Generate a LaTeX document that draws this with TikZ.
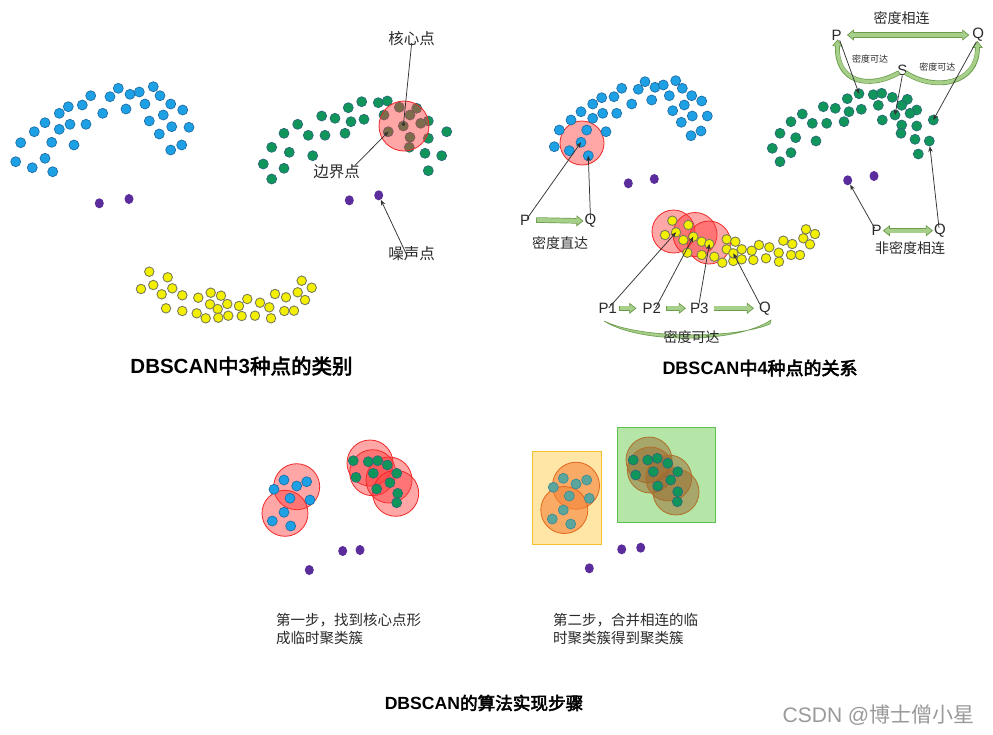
\documentclass[tikz,border=0pt]{standalone}
\usepackage{fontspec}
\setmainfont{Liberation Sans}
\newfontfamily\cjk{Noto Sans CJK SC}
\newfontfamily\cjkb[FakeBold=3]{Noto Sans CJK SC}
\usetikzlibrary{arrows.meta,shapes.geometric}
\definecolor{cblue}{HTML}{1EA0E4}
\definecolor{cblueD}{HTML}{1F6FA8}
\definecolor{cgreen}{HTML}{10955A}
\definecolor{cgreenD}{HTML}{2A6A78}
\definecolor{cyel}{HTML}{F2F000}
\definecolor{cyelD}{HTML}{7C7C58}
\definecolor{cpur}{HTML}{5A2C9C}
\definecolor{cteal}{HTML}{5BA69C}
\definecolor{ctealD}{HTML}{3E8A95}
\definecolor{cred}{HTML}{FF3B3B}
\definecolor{credD}{HTML}{F02828}
\definecolor{corg}{HTML}{F5843A}
\definecolor{corgD}{HTML}{E0661A}
\definecolor{cbrn}{HTML}{9A6A30}
\definecolor{cbrnD}{HTML}{B0702A}
\definecolor{cyrect}{HTML}{FFE6A6}
\definecolor{cyrectD}{HTML}{F5C030}
\definecolor{cgrect}{HTML}{B5E6A8}
\definecolor{cgrectD}{HTML}{5EC050}
\definecolor{gfill}{HTML}{A6CF8A}
\definecolor{gline}{HTML}{6B9B4B}
\definecolor{ctext}{HTML}{2A2A2A}
\definecolor{cptr}{HTML}{333333}
\definecolor{cwm}{HTML}{9A9A9A}
\newcommand\grnarrow[1]{\draw[gout] #1; \draw[gin] #1;}
\newcommand\grndarrow[1]{\draw[goutd] #1; \draw[gind] #1;}
\newcommand\grncurve[1]{\draw[gcout] #1; \draw[gcin] #1;}
\tikzset{
  dotb/.style={circle,inner sep=0pt,minimum size=10pt,fill=cblue,draw=cblueD,line width=0.7pt},
  dotg/.style={circle,inner sep=0pt,minimum size=10pt,fill=cgreen,draw=cgreenD,line width=0.7pt},
  doty/.style={circle,inner sep=0pt,minimum size=9.5pt,fill=cyel,draw=cyelD,line width=0.9pt},
  dotp/.style={ellipse,inner sep=0pt,minimum width=9pt,minimum height=10pt,fill=cpur},
  dott/.style={circle,inner sep=0pt,minimum size=10pt,fill=cteal,draw=ctealD,line width=0.7pt},
  redc/.style={draw=credD,line width=0.8pt,fill=cred,fill opacity=0.45},
  orgc/.style={draw=corgD,line width=0.8pt,fill=corg,fill opacity=0.6},
  brnc/.style={draw=cbrnD,line width=0.8pt,fill=cbrn,fill opacity=0.5},
  lbl/.style={inner sep=0pt,text=ctext,font=\cjk\fontsize{15.5}{18}\selectfont},
  lbls/.style={inner sep=0pt,text=ctext,font=\cjk\fontsize{14}{16}\selectfont},
  lblt/.style={inner sep=0pt,text=ctext,font=\cjk\fontsize{9}{10}\selectfont},
  latl/.style={inner sep=0pt,text=ctext,font=\fontsize{15}{18}\selectfont},
  captxt/.style={inner sep=0pt,text=ctext,font=\cjk\fontsize{14.5}{18}\selectfont,align=left,anchor=west},
  ttl/.style={inner sep=0pt,text=black},
  ptr/.style={draw=cptr,line width=0.75pt,-{Stealth[length=5.5pt,width=4.5pt]}},
  gout/.style={draw=gline,line width=5.5pt,-{Triangle[length=7pt,width=11pt,line width=0.7pt,fill=gfill]}},
  gin/.style={draw=gfill,line width=4.1pt,shorten >=5.5pt,shorten <=0.7pt},
  goutd/.style={draw=gline,line width=5.5pt,{Triangle[length=7pt,width=11pt,line width=0.7pt,fill=gfill]}-{Triangle[length=7pt,width=11pt,line width=0.7pt,fill=gfill]}},
  gind/.style={draw=gfill,line width=4.1pt,shorten >=5.5pt,shorten <=5.5pt},
  gcout/.style={draw=gline,line width=4.8pt,-{Triangle[length=7pt,width=10.5pt,line width=0.7pt,fill=gfill]}},
  gcin/.style={draw=gfill,line width=3.4pt,shorten >=5.5pt,shorten <=0.7pt},
}
\begin{document}
\begin{tikzpicture}[x=1pt,y=-1pt]
\useasboundingbox (0,0) rectangle (993,734);
\fill[white] (0,0) rectangle (993,734);

%%%%%%%% Panel 1 : blue
\foreach \x/\y in {118.3/88.3,153.3/86.7,90.7/95.7,110/96.7,130/94.3,139.3/92,160/95.7,68.3/106.7,82.3/105,145/104,170.7/104,59.3/113.3,102.7/113.3,126/109,163.3/115,182.7/110,45/122.7,70/124.3,86/124.3,149.3/121,59.3/129.3,34.3/131.7,171.7/126.7,189/127.3,159.3/134,20.7/142.7,51.7/142.3,74/145,181.7/145,170.7/150,45/158.3,15.7/161.7,32.3/167.7,52.7/171.7}
  \node[dotb] at (\x,\y) {};
\node[dotp] (n1a) at (99.3,203.3) {};
\node[dotp] (n1b) at (129,199) {};

%%%%%%%% Panel 1 : green with core point
\foreach \x/\y in {361.7/101.7,378.3/102.7,387.3/101,348.3/107.7,399.3/107.3,416.7/108.3,321.7/116,335/118.3,351/121.7,364/119.3,384/115,410/115,428.3/121,420.7/123.3,297.7/124.3,446.7/131.7,284/133.3,308.3/135.3,325/135.3,345/133.3,410/137.3,428.3/138.3,271.7/147.3,289.3/152.3,312.7/155.7,409.3/147.3,425/153.3,441.7/155.7,263.3/164,284/168.3,428.3/170.7,271.7/179}
  \node[dotg] at (\x,\y) {};
\node[dotg] (core) at (403.3,126) {};
\node[dotg] (bord) at (388.3,131.7) {};
\node[dotp] (n2a) at (349.3,200.3) {};
\node[dotp] (noise) at (378.7,195.3) {};
\draw[redc] (404,126) circle[radius=25];

\node[lbl] (hx) at (411.7,38.5) {核心点};
\node[lbl] (bj) at (336.7,171.7) {边界点};
\node[lbl] (zs) at (411.7,253.3) {噪声点};
\draw[draw=cptr,line width=0.75pt,-{Circle[length=3.5pt]}] ([yshift=3]hx.south) -- (core.center);
\draw[ptr] ([xshift=-5,yshift=-1]bj.north east) -- (bord.center);
\draw[ptr] ([xshift=-5,yshift=-9]zs.north) -- (noise);

%%%%%%%% Panel 1 : yellow
\foreach \x/\y in {149.3/271.7,167.7/277.3,301.7/280.7,141/289,153.3/285,172.3/288.3,311.7/287.7,161.7/294.3,182.3/295.3,198.3/297.7,210.7/292.7,221/295.7,247.3/299,275/294,286/297.3,297.7/292.3,305/300,210/304.3,227.3/304,239/306,260/302.7,269.3/307.3,166/308.3,182.3/311,217.7/309,196.7/313.3,205.7/318.3,218.3/317.7,228.3/315.7,241.7/316,255/315.7,271/318.3,284.3/311,294/310.7}
  \node[doty] at (\x,\y) {};

\node[ttl,font=\fontsize{20.5}{24}\selectfont] (t1) at (241.5,366) {{\bfseries DBSCAN}{\cjkb 中}{\bfseries 3}{\cjkb 种点的类别}};

%%%%%%%% Panel 2 : blue, directly density reachable
\draw[redc] (582,143) circle[radius=22];
\foreach \x/\y in {645/81.7,675.7/80.7,621.7/88.3,638.3/89.3,655/87.3,663.3/85,682.3/88.3,601.7/97.7,614/96.7,669.3/95.7,691.7/95.7,592.7/104,631.7/104,651.7/100,684.3/105,701.7/101,581/111.7,602.7/113.3,616.7/113.3,672.7/110.7,592.7/118.3,571/120,692.3/116,707.3/116,681.3/122.3,559.3/130,586.7/130,606/131.7,701/131,691/135.7,554.3/146.7,569.3/150.7}
  \node[dotb] at (\x,\y) {};
\node[dotb] (pa) at (581,142.3) {};
\node[dotb] (qa) at (588.3,155.7) {};
\node[dotp] (n3a) at (628.3,183.3) {};
\node[dotp] (n3b) at (654.3,179) {};
\node[latl] (pal) at (525,220) {P};
\node[latl] (qal) at (590.5,221) {Q};
\node[lbls] (mdzd) at (560,243.3) {密度直达};
\draw[ptr] ([xshift=2,yshift=-4]pal.north) -- (pa.center);
\draw[ptr] ([yshift=-5]qal.north) -- (qa.center);
\grnarrow{([xshift=6]pal.east) -- ([xshift=-1]qal.west)}

%%%%%%%% Panel 2 : yellow, density reachable
\draw[redc] (673.5,231.5) circle[radius=21.5];
\draw[redc] (695,234.5) circle[radius=22];
\draw[redc] (709,242.5) circle[radius=21.5];
\foreach \x/\y in {672.3/220.7,688.3/225,665/235,683.3/240,701.7/241.7,687.3/252.7,701.7/255,714.3/256.7,726.7/239.3,735.3/241.7,726.7/249.3,722.3/262.7,733.3/261,741.7/249.3,741.7/259.3,751.7/250.7,759/245,753.3/260,766/258.3,769.3/247.3,778.7/252.7,779/261.7,783.3/240.7,792.3/244,791/255,800/255,803.3/238.3,810/244.3,806/229.3,815/234}
  \node[doty] at (\x,\y) {};
\node[doty] (p1d) at (676,232.3) {};
\node[doty] (p2d) at (693.3,236.7) {};
\node[doty] (p3d) at (709.3,244) {};
\node[doty] (qyd) at (733.3,253.3) {};
\node[latl] (p1l) at (607.7,308.3) {P1};
\node[latl] (p2l) at (651.7,308.3) {P2};
\node[latl] (p3l) at (699.3,308.3) {P3};
\node[latl] (qyl) at (765,308.3) {Q};
\draw[ptr] ([xshift=1,yshift=-5]p1l.north) -- (p1d.center);
\draw[ptr] ([xshift=4,yshift=-5]p2l.north) -- (p2d.center);
\draw[ptr] ([xshift=-1,yshift=-5]p3l.north) -- (p3d.center);
\draw[ptr] ([xshift=-5,yshift=-3]qyl.north) -- (qyd.center);
\grnarrow{([xshift=2]p1l.east) -- ([xshift=-6]p2l.west)}
\grnarrow{([xshift=5]p2l.east) -- ([xshift=-4]p3l.west)}
\grnarrow{([xshift=5]p3l.east) -- ([xshift=-5]qyl.west)}
\draw[draw=gline,fill=gfill,line width=0.6pt] (604,321) .. controls (640,344) and (735,344) .. (771,320) -- (770,324) .. controls (735,339) and (640,339) .. cycle;
\node[lbls] (mdkd) at (691.7,336.7) {密度可达};

%%%%%%%% Panel 2 : green, density connected
\foreach \x/\y in {873.3/94.7,881.7/93.3,847.3/98.7,892.3/97.3,907.3/99.3,823.3/106.7,835.3/108.3,849/111.7,861.3/109.3,878.3/105.3,901.7/105.3,916.7/110,910/113.3,802.3/114,791/121.7,812.3/123.3,826.7/123.3,844/121.7,882.3/120,901.7/125,916.7/126,780/133.3,795.7/137.7,816/141,901/133.3,915/139.3,772.3/148.3,791/152.7,918.3/154,780/161.7}
  \node[dotg] at (\x,\y) {};
\node[dotg] (ptd) at (859,93.7) {};
\node[dotg] (sd) at (895,115) {};
\node[dotg] (qtd) at (933.3,120) {};
\node[dotg] (qbd) at (929.3,141) {};
\node[dotp] (pbd) at (847.7,180.3) {};
\node[dotp] (n4b) at (874,176) {};

\node[lbls] (mdxl) at (901.7,18.3) {密度相连};
\node[latl] (ptl) at (836.7,35) {P};
\node[latl] (qtl) at (978.3,35) {Q};
\node[latl] (stl) at (902.3,70) {S};
\node[lblt] (kd1) at (870,59.3) {密度可达};
\node[lblt] (kd2) at (937.3,66.7) {密度可达};
\grndarrow{([xshift=5]ptl.east) -- ([xshift=-3]qtl.west)}
\grncurve{([xshift=-3,yshift=3]stl.south) .. controls (868,90) and (836,82) .. ([xshift=1,yshift=1]ptl.south)}
\grncurve{([xshift=3,yshift=3]stl.south) .. controls (935,92) and (978,84) .. ([xshift=-1,yshift=1]qtl.south)}
\draw[ptr] ([xshift=3]ptl.south) -- (ptd.center);
\draw[ptr] (stl.south) -- (sd.center);
\draw[ptr] ([xshift=-2]qtl.south) -- (qtd.center);

\node[latl] (pbl) at (876.7,230.7) {P};
\node[latl] (qbl) at (940,230.7) {Q};
\node[lbls] (fmd) at (910,248.3) {非密度相连};
\grndarrow{([xshift=1]pbl.east) -- ([xshift=-1]qbl.west)}
\draw[ptr] ([xshift=-2,yshift=-3]pbl.north) -- (pbd);
\draw[ptr] ([xshift=-1,yshift=-4]qbl.north) -- (qbd);

\node[ttl,font=\fontsize{18}{22}\selectfont] (t2) at (760,368) {{\bfseries DBSCAN}{\cjkb 中}{\bfseries 4}{\cjkb 种点的关系}};

%%%%%%%% Panel 3a
\draw[redc] (296.7,486.7) circle[radius=23];
\draw[redc] (285,513.3) circle[radius=23];
\draw[redc] (370,463) circle[radius=23];
\draw[redc] (372.7,472.7) circle[radius=23];
\draw[redc] (389,480) circle[radius=23];
\draw[redc] (395.7,493.3) circle[radius=23];
\foreach \x/\y in {284/480,296.7/486,306.7/481.7,274/489.3,290/498.3,310/500,284/512.3,272.3/521,290.7/526}
  \node[dotb] at (\x,\y) {};
\foreach \x/\y in {353.3/460.7,368.3/461.7,377.7/460.7,387.3/465,356/477.3,373.3/473.3,396.7/473.3,390/482.7,376.7/489,397.7/493.3,396.7/502.7}
  \node[dotg] at (\x,\y) {};
\node[dotp] (n5a) at (342.7,551) {};
\node[dotp] (n5b) at (360,550) {};
\node[dotp] (n5c) at (309.3,570) {};
\node[captxt] (c1) at (276,629.5) {第一步，找到核心点形\\成临时聚类簇};

%%%%%%%% Panel 3b
\draw[draw=cyrectD,fill=cyrect,line width=0.9pt] (532.7,451) rectangle (601.7,544);
\draw[draw=cgrectD,fill=cgrect,line width=0.9pt] (617.7,427.3) rectangle (715.7,522.3);
\draw[orgc] (576,485.7) circle[radius=23.5];
\draw[orgc] (564.3,510) circle[radius=23.5];
\draw[brnc] (649,460) circle[radius=23];
\draw[brnc] (650.3,470) circle[radius=23];
\draw[brnc] (668.7,478) circle[radius=23];
\draw[brnc] (676,492) circle[radius=23];
\foreach \x/\y in {563.3/478.3,576/484,586.7/480,553.3/487.3,569.3/496,589.3/498.3,563.3/510,552.3/519,570.7/524}
  \node[dott] at (\x,\y) {};
\foreach \x/\y in {633.3/460,647.7/460,657.3/458.3,667.7/463.3,635.7/475,653.3/471.7,677.7/471.7,670.7/480,657.7/486,677.7/491.7,677.3/501.7}
  \node[dotg] at (\x,\y) {};
\node[dotp] (n6a) at (621.7,549.3) {};
\node[dotp] (n6b) at (640.7,547.7) {};
\node[dotp] (n6c) at (589.3,568.3) {};
\node[captxt] (c2) at (553,629.5) {第二步，合并相连的临\\时聚类簇得到聚类簇};

\node[ttl,font=\fontsize{17.6}{21}\selectfont] (t3) at (484,703) {{\bfseries DBSCAN}{\cjkb 的算法实现步骤}};

\node[inner sep=0pt,text=cwm,font=\fontsize{21}{23}\selectfont] (wm) at (878.5,715) {CSDN @{\cjk 博士僧小星}};
\end{tikzpicture}
\end{document}
